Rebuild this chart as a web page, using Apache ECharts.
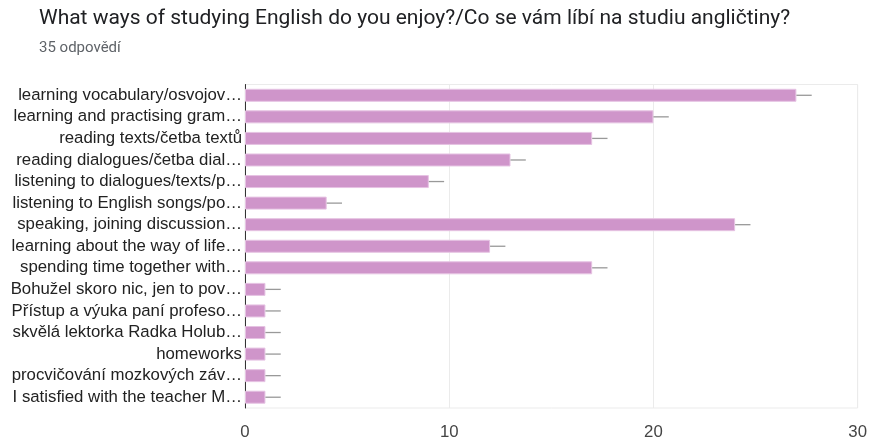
<!DOCTYPE html>
<html><head><meta charset="utf-8">
<script src="https://cdn.jsdelivr.net/npm/echarts@6/dist/echarts.min.js"></script>
<style>html,body{margin:0;padding:0;background:#fff}#c{width:870px;height:441px}</style>
</head><body><div id="c"></div>
<script>
const categories = [
  "learning vocabulary/osvojov…",
  "learning and practising gram…",
  "reading texts/četba textů",
  "reading dialogues/četba dial…",
  "listening to dialogues/texts/p…",
  "listening to English songs/po…",
  "speaking, joining discussion…",
  "learning about the way of life…",
  "spending time together with…",
  "Bohužel skoro nic, jen to pov…",
  "Přístup a výuka paní profeso…",
  "skvělá lektorka Radka Holub…",
  "homeworks",
  "procvičování mozkových záv…",
  "I satisfied with the teacher M…"
];
const values = [27, 20, 17, 13, 9, 4, 24, 12, 17, 1, 1, 1, 1, 1, 1];
const errorExt = [0.75, 0.75, 0.75, 0.75, 0.75, 0.75, 0.75, 0.75, 0.75, 0.75, 0.75, 0.75, 0.75, 0.75, 0.75];
const xTicks = [0, 10, 20, 30];

const chart = echarts.init(document.getElementById('c'));
chart.setOption({
  animation: false,
  title: [
    {text: "What ways of studying English do you enjoy?/Co se vám líbí na studiu angličtiny?", left: 34, top: 3,
     textStyle: {fontFamily: 'Roboto', fontSize: 21, fontWeight: 'normal', color: '#202124'}},
    {text: "35 odpovědí", left: 34, top: 36,
     textStyle: {fontFamily: 'Roboto', fontSize: 15, fontWeight: 'normal', color: '#5f6368'}}
  ],
  grid: {left: 245, right: 10, top: 84.5, bottom: 26.5, show: true, borderColor: '#ebebeb', borderWidth: 1},
  xAxis: {type: 'value', min: xTicks[0], max: xTicks[xTicks.length-1], interval: 10,
    axisLine: {show: false}, axisTick: {show: false},
    splitLine: {lineStyle: {color: '#ebebeb'}},
    axisLabel: {fontFamily: 'Liberation Sans', fontSize: 16.8, color: '#444', margin: 16}},
  yAxis: {type: 'category', data: categories, inverse: true,
    axisLine: {show: true, lineStyle: {color: '#333', width: 1}}, axisTick: {show: false},
    axisLabel: {interval: 0, hideOverlap: false, fontFamily: 'Liberation Sans', fontSize: 16.8, color: '#222', margin: 3}},
  series: [
    {type: 'bar', data: values, barWidth: 13,
     itemStyle: {color: '#cf95ca', borderColor: '#e6c3e3', borderWidth: 1}},
    {type: 'custom', data: values.map((v, i) => [v, i, errorExt[i]]),
     encode: {x: 0, y: 1},
     renderItem: function (params, api) {
       const v = api.value(0), i = api.value(1), e = api.value(2);
       const p1 = api.coord([v, i]);
       const p2 = api.coord([v + e, i]);
       return {type: 'line', shape: {x1: p1[0], y1: p1[1], x2: p2[0], y2: p2[1]},
               style: {stroke: '#999', lineWidth: 1.3}};
     }, z: 3}
  ]
});
</script></body></html>
